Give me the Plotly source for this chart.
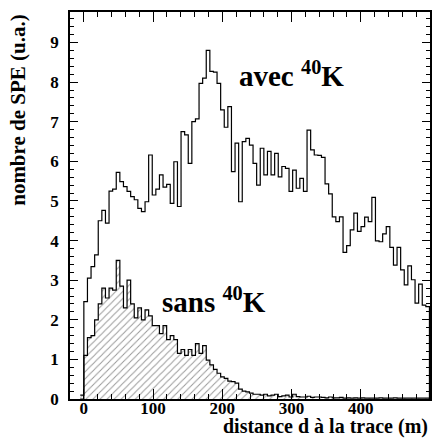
import numpy as np
import plotly.graph_objects as go

# binning of both histograms (m)
bin_width = 5.2
first_edge = -5.2

# SPE counts per bin, "avec 40K" (first bin is the one just below 0)
avec_k40 = [
    0.0,
    2.46, 3.05, 3.34, 3.64, 4.50, 4.76, 4.44, 5.25, 5.30, 5.72,
    5.49, 5.36, 5.24, 5.11, 5.03, 4.81, 4.73, 4.98, 6.16, 5.15,
    5.30, 5.66, 5.35, 5.42, 4.94, 5.99, 4.86, 6.75, 6.67, 5.95,
    7.00, 7.07, 7.97, 8.10, 8.80, 8.27, 8.25, 7.97, 7.30, 6.86,
    7.38, 5.74, 6.46, 4.98, 6.50, 6.58, 6.41, 5.95, 5.40, 6.33,
    5.66, 6.25, 5.66, 6.20, 5.61, 5.87, 5.82, 5.24, 5.78, 5.32,
    5.57, 5.24, 6.79, 6.29, 6.16, 6.15, 6.10, 5.43, 5.18, 4.60,
    4.48, 4.60, 3.70, 3.87, 4.27, 4.69, 4.23, 4.35, 4.59, 4.48,
    5.09, 3.99, 3.97, 4.17, 4.35, 3.83, 3.38, 3.83, 3.26, 2.88,
    3.36, 3.01, 2.42, 2.90, 2.37, 2.33,
]

# SPE counts per bin, "sans 40K"
sans_k40 = [
    0.10,
    1.10, 1.55, 1.60, 2.00, 2.40, 2.80, 2.55, 2.80, 2.75, 3.50,
    2.85, 2.30, 3.00, 2.40, 2.05, 2.30, 2.00, 2.25, 2.10, 1.85,
    1.85, 1.65, 1.85, 1.50, 1.60, 1.50, 1.15, 1.25, 1.10, 1.25,
    1.10, 1.40, 1.15, 1.35, 0.98, 0.86, 0.75, 0.65, 0.56, 0.52,
    0.45, 0.44, 0.40, 0.25, 0.20, 0.18, 0.15, 0.12, 0.12, 0.10,
    0.12, 0.08, 0.10, 0.12, 0.06, 0.08, 0.10, 0.05, 0.12, 0.06,
    0.05, 0.05, 0.07, 0.04, 0.05, 0.05, 0.04, 0.03, 0.05, 0.03,
    0.03, 0.04, 0.02, 0.03, 0.02, 0.03, 0.02, 0.03, 0.02, 0.02,
    0.02, 0.02, 0.03, 0.02, 0.02, 0.02, 0.03, 0.02, 0.02, 0.02,
    0.02, 0.02, 0.02, 0.02, 0.02, 0.02,
]

x_ticks = [0, 100, 200, 300, 400]
y_ticks = [0, 1, 2, 3, 4, 5, 6, 7, 8, 9]

FONT = "Liberation Serif"


def step_xy(values):
    """bin edges + values for an hv step line closing back to zero"""
    edges = first_edge + bin_width * np.arange(len(values) + 1)
    ys = list(values) + [values[-1]]
    return list(edges) + [edges[-1]], ys + [0.0]


xa, ya = step_xy(avec_k40)
xs, ys = step_xy(sans_k40)

fig = go.Figure()

# hatched histogram without 40K
fig.add_trace(go.Scatter(
    x=xs, y=ys, mode="lines", line_shape="hv",
    line=dict(color="black", width=1.2),
    fill="tozeroy", fillcolor="rgba(0,0,0,0)",
    fillpattern=dict(shape="/", fgcolor="#333333", bgcolor="white",
                     size=5, solidity=0.2),
    hoverinfo="skip", showlegend=False,
))

# open histogram with 40K
fig.add_trace(go.Scatter(
    x=xa, y=ya, mode="lines", line_shape="hv",
    line=dict(color="black", width=1.2),
    hoverinfo="skip", showlegend=False,
))

axis_common = dict(
    showline=True, linecolor="black", linewidth=1.5, mirror="allticks",
    ticks="inside", tickcolor="black", showgrid=False, zeroline=False,
    tickfont=dict(family="Times New Roman", size=17, color="black", weight="bold"),
)

fig.update_xaxes(range=[-20, 500], tickvals=x_ticks,
                 ticklen=10, tickwidth=1, ticklabelstandoff=-7,
                 minor=dict(dtick=20, tick0=0, ticklen=5, ticks="inside",
                            tickcolor="black", showgrid=False),
                 **axis_common)
fig.update_yaxes(range=[0, 9.77], tickvals=y_ticks,
                 ticklen=8, tickwidth=1, ticklabelstandoff=6,
                 minor=dict(dtick=0.2, tick0=0, ticklen=4, ticks="inside",
                            tickcolor="black", showgrid=False),
                 **axis_common)

fig.add_annotation(x=221, y=8.2, xref="x", yref="y", xanchor="left", yanchor="middle",
                   text="<b>avec <sup>40</sup>K</b>", showarrow=False,
                   font=dict(family=FONT, size=29, color="black"))
fig.add_annotation(x=110, y=2.5, xref="x", yref="y", xanchor="left", yanchor="middle",
                   text="<b>sans <sup>40</sup>K</b>", showarrow=False,
                   font=dict(family=FONT, size=29, color="black"))

# axis titles placed like ROOT (right / top aligned)
fig.add_annotation(x=1.0, y=-0.072, xref="paper", yref="paper", xanchor="right", yanchor="middle",
                   text="<b>distance d à la trace (m)</b>", showarrow=False,
                   font=dict(family=FONT, size=20, color="black"))
fig.add_annotation(x=-0.145, y=1.0, xref="paper", yref="paper", xanchor="center", yanchor="top",
                   text="<b>nombre de SPE (u.a.)</b>", showarrow=False, textangle=-90,
                   font=dict(family=FONT, size=21, color="black"))

fig.update_layout(
    width=434, height=438,
    margin=dict(l=70, r=2, t=12, b=39),
    paper_bgcolor="white", plot_bgcolor="white",
    font=dict(family=FONT, color="black"),
    showlegend=False,
)

# the page has a default body margin; drop it so the figure fills the window
fig.write_html("out.html", config={"displayModeBar": False},
               post_script="document.body.style.margin='0';")
